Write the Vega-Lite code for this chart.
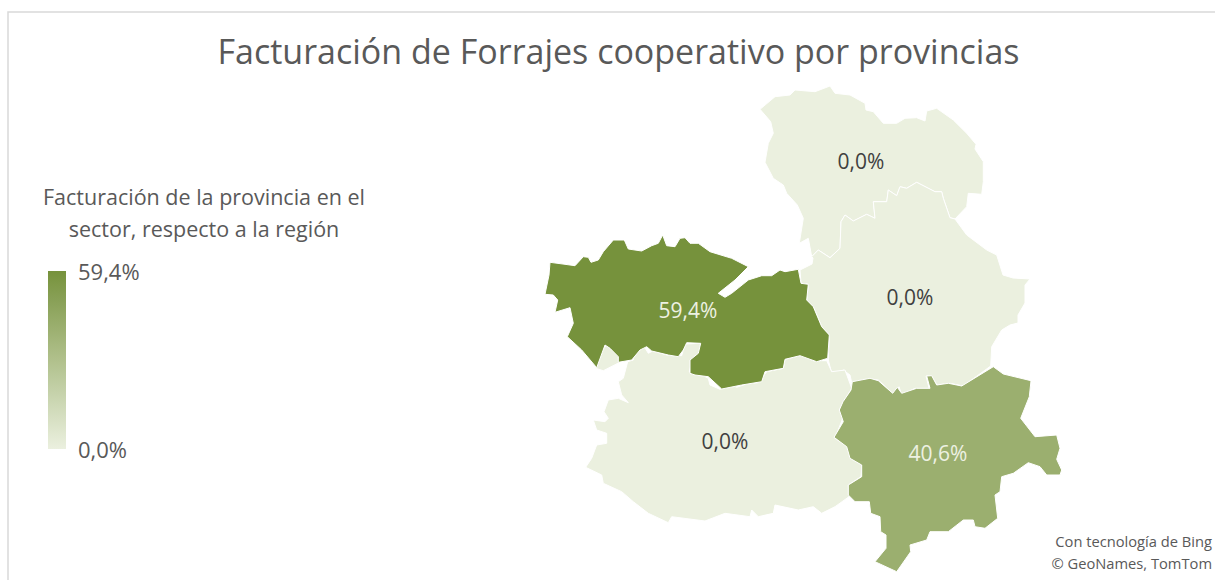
{"$schema":"https://vega.github.io/schema/vega-lite/v6.json","width":1215,"height":580,"padding":0,"autosize":"none","background":"white","config":{"view":{"stroke":null},"font":"Open Sans"},
"title":{"text":"Facturación de Forrajes cooperativo por provincias","fontSize":34,"font":"Open Sans","fontWeight":"normal","color":"#595959","anchor":"middle","frame":"group","baseline":"middle","offset":0,"dy":88,"dx":11},
"projection":{"type":"identity","reflectY":true,"scale":100,"translate":[1000,600]},
"layer":[
{"data":{"values":[{"type":"Feature","name":"Marco","geometry":{"type":"LineString","coordinates":[[-9.92,0],[-9.92,5.88],[2.15,5.88]]}}]},"mark":{"type":"geoshape","filled":false,"stroke":"#d9d9d9","strokeWidth":1.5},"encoding":{}},
{"data":{"values":[
{"type":"Feature","province":"Guadalajara","value":0,"geometry":{"type":"Polygon","coordinates":[[[-2.40,4.907],[-2.25,5.033],[-2.10,5.05],[-2.05,5.10],[-1.85,5.083],[-1.70,5.14],[-1.65,5.067],[-1.50,5.05],[-1.35,4.967],[-1.34,4.90],[-1.267,4.883],[-1.167,4.767],[-1.033,4.767],[-0.95,4.817],[-0.833,4.823],[-0.75,4.79],[-0.733,4.89],[-0.633,4.917],[-0.467,4.80],[-0.333,4.667],[-0.24,4.557],[-0.25,4.51],[-0.167,4.383],[-0.167,4.183],[-0.183,4.057],[-0.317,4.067],[-0.333,3.933],[-0.45,3.81],[-0.50,3.823],[-0.567,4.017],[-0.583,4.083],[-0.65,4.083],[-0.833,4.177],[-0.933,4.117],[-1.00,4.133],[-1.033,4.043],[-1.117,4.10],[-1.133,3.983],[-1.267,3.983],[-1.25,3.817],[-1.333,3.857],[-1.467,3.79],[-1.55,3.85],[-1.59,3.783],[-1.60,3.517],[-1.70,3.423],[-1.817,3.50],[-1.883,3.433],[-1.917,3.617],[-2.007,3.567],[-1.967,3.817],[-2.027,3.95],[-2.133,4.067],[-2.167,4.15],[-2.267,4.217],[-2.35,4.377],[-2.317,4.567],[-2.267,4.667],[-2.293,4.783],[-2.40,4.907]]]}},
{"type":"Feature","province":"Cuenca","value":0,"geometry":{"type":"Polygon","coordinates":[[[-1.883,3.433],[-1.817,3.50],[-1.70,3.423],[-1.60,3.517],[-1.59,3.783],[-1.55,3.85],[-1.467,3.79],[-1.333,3.857],[-1.25,3.817],[-1.267,3.983],[-1.133,3.983],[-1.117,4.10],[-1.033,4.043],[-1.00,4.133],[-0.933,4.117],[-0.833,4.177],[-0.65,4.083],[-0.583,4.083],[-0.567,4.017],[-0.50,3.823],[-0.45,3.81],[-0.333,3.65],[-0.133,3.50],[-0.033,3.45],[0.03,3.25],[0.13,3.22],[0.30,3.21],[0.25,3.15],[0.25,2.97],[0.18,2.85],[0.18,2.77],[0.10,2.75],[0.017,2.70],[-0.083,2.533],[-0.093,2.34],[-0.367,2.14],[-0.50,2.167],[-0.633,2.15],[-0.683,2.24],[-0.74,2.24],[-0.707,2.11],[-0.85,2.117],[-0.983,2.05],[-1.01,2.133],[-1.067,2.06],[-1.217,2.20],[-1.317,2.207],[-1.483,2.173],[-1.50,2.25],[-1.567,2.30],[-1.65,2.24],[-1.683,2.267],[-1.717,2.40],[-1.707,2.65],[-1.783,2.733],[-1.867,2.933],[-1.933,3.00],[-1.917,3.157],[-1.99,3.167],[-2.00,3.30],[-1.88,3.36],[-1.87,3.42],[-1.883,3.433]]]}},
{"type":"Feature","province":"Ciudad Real","value":0,"geometry":{"type":"MultiPolygon","coordinates":[[[[-3.817,2.183],[-3.767,2.217],[-3.723,2.383],[-3.667,2.40],[-3.657,2.46],[-3.567,2.55],[-3.517,2.467],[-3.467,2.493],[-3.333,2.45],[-3.183,2.443],[-3.15,2.56],[-2.99,2.567],[-2.99,2.467],[-3.083,2.383],[-3.107,2.283],[-3.017,2.267],[-2.917,2.217],[-2.90,2.15],[-2.80,2.107],[-2.683,2.15],[-2.633,2.127],[-2.517,2.167],[-2.417,2.173],[-2.333,2.283],[-2.167,2.317],[-2.15,2.407],[-1.983,2.45],[-1.867,2.393],[-1.733,2.393],[-1.683,2.283],[-1.55,2.30],[-1.483,2.117],[-1.60,1.917],[-1.573,1.817],[-1.65,1.617],[-1.517,1.533],[-1.483,1.417],[-1.383,1.35],[-1.39,1.233],[-1.517,1.15],[-1.51,1.033],[-1.65,0.933],[-1.783,0.867],[-1.867,0.933],[-2.017,0.90],[-2.25,0.95],[-2.267,0.867],[-2.417,0.833],[-2.483,0.90],[-2.50,0.833],[-2.75,0.867],[-2.95,0.79],[-3.283,0.833],[-3.317,0.773],[-3.517,0.867],[-3.667,0.983],[-3.783,1.083],[-3.967,1.167],[-3.983,1.25],[-4.143,1.327],[-4.083,1.417],[-4.033,1.55],[-3.933,1.567],[-3.933,1.667],[-4.033,1.70],[-4.067,1.80],[-3.95,1.783],[-3.917,1.817],[-3.96,1.883],[-3.917,2.00],[-3.817,2.017],[-3.717,1.973],[-3.783,2.05],[-3.817,2.183]]],[[[-4.043,2.317],[-4.00,2.483],[-3.933,2.55],[-3.817,2.467],[-3.81,2.373],[-3.967,2.293],[-4.043,2.317]]]]}},
{"type":"Feature","province":"Toledo","value":0.594,"geometry":{"type":"Polygon","coordinates":[[[-4.55,3.057],[-4.51,3.25],[-4.50,3.377],[-4.35,3.357],[-4.25,3.343],[-4.167,3.433],[-4.117,3.427],[-4.09,3.377],[-4.017,3.40],[-3.967,3.483],[-3.867,3.60],[-3.757,3.60],[-3.717,3.51],[-3.583,3.49],[-3.483,3.543],[-3.417,3.567],[-3.373,3.65],[-3.333,3.543],[-3.25,3.533],[-3.20,3.617],[-3.15,3.623],[-3.10,3.567],[-3.017,3.567],[-2.90,3.483],[-2.683,3.417],[-2.517,3.333],[-2.65,3.20],[-2.817,3.067],[-2.75,3.027],[-2.683,3.067],[-2.517,3.20],[-2.383,3.243],[-2.283,3.243],[-2.20,3.30],[-2.15,3.283],[-2.017,3.307],[-1.99,3.167],[-1.917,3.157],[-1.933,3.00],[-1.867,2.933],[-1.783,2.733],[-1.707,2.65],[-1.723,2.417],[-1.833,2.383],[-2.00,2.443],[-2.15,2.407],[-2.167,2.317],[-2.35,2.283],[-2.383,2.183],[-2.583,2.15],[-2.783,2.11],[-2.917,2.233],[-3.05,2.25],[-3.10,2.267],[-3.10,2.40],[-3.017,2.467],[-2.993,2.567],[-3.133,2.573],[-3.167,2.50],[-3.217,2.433],[-3.317,2.45],[-3.483,2.49],[-3.533,2.533],[-3.60,2.50],[-3.683,2.40],[-3.817,2.377],[-3.817,2.433],[-3.90,2.517],[-3.95,2.55],[-4.033,2.323],[-4.183,2.50],[-4.327,2.633],[-4.267,2.767],[-4.30,2.923],[-4.45,2.877],[-4.423,3.00],[-4.467,3.05],[-4.55,3.057]]]}},
{"type":"Feature","province":"Albacete","value":0.406,"geometry":{"type":"Polygon","coordinates":[[[-1.477,2.183],[-1.30,2.217],[-1.217,2.193],[-1.073,2.067],[-1.027,2.127],[-0.983,2.067],[-0.833,2.117],[-0.70,2.117],[-0.733,2.24],[-0.683,2.243],[-0.633,2.15],[-0.517,2.167],[-0.383,2.14],[-0.067,2.333],[0.033,2.26],[0.31,2.193],[0.293,2.033],[0.207,1.817],[0.35,1.633],[0.567,1.65],[0.60,1.517],[0.567,1.407],[0.617,1.30],[0.60,1.25],[0.467,1.25],[0.40,1.333],[0.283,1.373],[0.133,1.267],[0.017,1.233],[0,1.083],[-0.05,1.05],[-0.023,0.817],[-0.15,0.717],[-0.25,0.733],[-0.267,0.80],[-0.367,0.80],[-0.517,0.683],[-0.70,0.683],[-0.733,0.60],[-0.90,0.55],[-0.893,0.483],[-1.033,0.283],[-1.25,0.383],[-1.14,0.517],[-1.14,0.65],[-1.193,0.683],[-1.20,0.833],[-1.293,0.867],[-1.307,0.983],[-1.45,0.983],[-1.517,1.05],[-1.517,1.15],[-1.383,1.233],[-1.383,1.35],[-1.50,1.417],[-1.533,1.533],[-1.66,1.627],[-1.567,1.783],[-1.607,1.90],[-1.57,1.983],[-1.49,2.10],[-1.477,2.183]]]}}
]},"mark":{"type":"geoshape","stroke":"white","strokeWidth":1},
"encoding":{"color":{"field":"value","type":"quantitative","scale":{"domain":[0,0.594],"range":["#ebf0df","#76923c"]},
"legend":{"orient":"none","legendX":48,"legendY":271,"title":null,"gradientLength":178,"gradientThickness":18,"gradientStrokeWidth":0,"labelFontSize":22,"labelFont":"Open Sans","labelColor":"#595959","labelOffset":12,"values":[0,0.594],"labelExpr":"replace(format(datum.value,'.1%'),'.',',')","encoding":{"labels":{"baseline":{"value":"middle"},"dy":{"value":2}}}}}}},
{"data":{"values":[
{"province":"Guadalajara","lon":-1.39,"lat":4.375,"value":0,"label":"0,0%"},
{"province":"Cuenca","lon":-0.90,"lat":3.015,"value":0,"label":"0,0%"},
{"province":"Ciudad Real","lon":-2.75,"lat":1.575,"value":0,"label":"0,0%"},
{"province":"Toledo","lon":-3.12,"lat":2.885,"value":0.594,"label":"59,4%"},
{"province":"Albacete","lon":-0.62,"lat":1.455,"value":0.406,"label":"40,6%"}
]},"mark":{"type":"text","fontSize":21,"font":"Open Sans","align":"center","baseline":"middle"},
"encoding":{"longitude":{"field":"lon","type":"quantitative"},"latitude":{"field":"lat","type":"quantitative"},"text":{"field":"label","type":"nominal"},"color":{"condition":{"test":"datum.value > 0.3","value":"#edf1e2"},"value":"#404040"}}},
{"data":{"values":[
{"lon":-7.96,"lat":4.01,"label":"Facturación de la provincia en el"},
{"lon":-7.96,"lat":3.69,"label":"sector, respecto a la región"}
]},"mark":{"type":"text","fontSize":21.5,"font":"Open Sans","align":"center","baseline":"middle","color":"#595959"},
"encoding":{"longitude":{"field":"lon","type":"quantitative"},"latitude":{"field":"lat","type":"quantitative"},"text":{"field":"label","type":"nominal"}}},
{"data":{"values":[
{"lon":2.12,"lat":0.57,"label":"Con tecnología de Bing"},
{"lon":2.12,"lat":0.35,"label":"© GeoNames, TomTom"}
]},"mark":{"type":"text","fontSize":14.7,"font":"Open Sans","align":"right","baseline":"middle","color":"#595959"},
"encoding":{"longitude":{"field":"lon","type":"quantitative"},"latitude":{"field":"lat","type":"quantitative"},"text":{"field":"label","type":"nominal"}}}
]}
